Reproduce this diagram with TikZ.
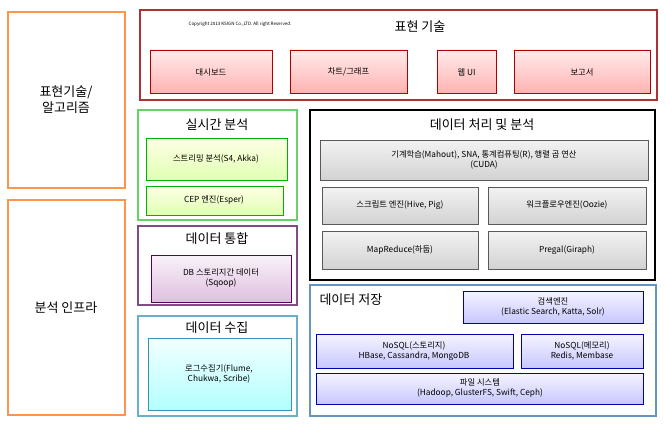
\documentclass[tikz,border=0pt]{standalone}
\usepackage{fontspec}
\setmainfont{Noto Sans CJK KR}
\usetikzlibrary{shadows}
\begin{document}
\begin{tikzpicture}[x=1pt,y=-1pt,
  grp/.style={draw=#1,line width=1.2pt,fill=white},
  inbox/.style={draw=#1!70!black,line width=0.5pt,drop shadow={opacity=0.3,shadow xshift=1pt,shadow yshift=-1pt}},
  ttl/.style={font=\fontsize{13}{16}\selectfont},
  lbl/.style={font=\fontsize{8.3}{10}\selectfont,align=center}]
\useasboundingbox (0,0) rectangle (666,425);
\fill[white] (0,0) rectangle (666,425);
% left
\draw[orange!80!red!70,line width=1.2pt] (8,12) rectangle (125,188);
\draw[orange!80!red!70,line width=1.2pt] (8,200) rectangle (125,415);
\node[ttl,align=center] (l1) at (66,100) {표현기술/\\알고리즘};
\node[ttl] (l2) at (66,308) {분석 인프라};
% top
\draw[grp=red!60!black!80] (140,10) rectangle (657,100);
\node[ttl] (t) at (420,27) {표현 기술};
\node[font=\fontsize{4.5}{5}\selectfont] (cp) at (240,24) {Copyright 2013 KSIGN Co.,LTD. All right Reserved.};
\foreach \a/\b/\s [count=\i] in {150/272/{대시보드},290/407/{차트/그래프},437/496/{웹 UI},514/650/{보고서}}{
  \draw[inbox=red,top color=red!8,bottom color=red!30] (\a,50) rectangle (\b,93);
  \node[lbl] (r\i) at ({(\a+\b)/2},72) {\s};
}
% green
\draw[grp=green!70!black!60] (138,110) rectangle (297,220);
\node[ttl] (g) at (217,125) {실시간 분석};
\draw[inbox=green,top color=green!5!yellow!10,bottom color=green!40!yellow!30] (146,138) rectangle (287,180);
\node[lbl] (g1) at (216,159) {스트리밍 분석(S4, Akka)};
\draw[inbox=green,top color=green!5!yellow!10,bottom color=green!40!yellow!30] (146,186) rectangle (283,215);
\node[lbl] (g2) at (214,200) {CEP 엔진(Esper)};
% purple
\draw[grp=violet!60!black!70] (138,226) rectangle (297,305);
\node[ttl] (p) at (217,239) {데이터 통합};
\draw[inbox=violet,top color=violet!5,bottom color=violet!25] (151,255) rectangle (291,302);
\node[lbl] (p1) at (221,278) {DB 스토리지간 데이터\\(Sqoop)};
% cyan
\draw[grp=cyan!70!black!70] (138,316) rectangle (297,416);
\node[ttl] (c) at (217,328) {데이터 수집};
\draw[inbox=cyan,top color=cyan!5,bottom color=cyan!30] (148,338) rectangle (291,410);
\node[lbl] (c1) at (219,374) {로그수집기(Flume,\\Chukwa, Scribe)};
% black
\draw[grp=black,line width=1.6pt] (310,110) rectangle (655,280);
\node[ttl] (k) at (482,125) {데이터 처리 및 분석};
\tikzset{gb/.style={inbox=gray,top color=gray!10,bottom color=gray!35}}
\draw[gb] (320,140) rectangle (648,180);
\node[lbl] (k1) at (484,160) {기계학습(Mahout), SNA, 통계컴퓨팅(R), 행렬 곱 연산\\(CUDA)};
\draw[gb] (322,187) rectangle (478,224); \node[lbl] (k2) at (400,205) {스크립트 엔진(Hive, Pig)};
\draw[gb] (488,187) rectangle (646,224); \node[lbl] (k3) at (567,205) {워크플로우엔진(Oozie)};
\draw[gb] (322,231) rectangle (478,269); \node[lbl] (k4) at (400,250) {MapReduce(하둡)};
\draw[gb] (488,231) rectangle (646,269); \node[lbl] (k5) at (567,250) {Pregal(Giraph)};
% blue
\draw[grp=blue!50!cyan!60!black!60] (310,285) rectangle (656,416);
\node[ttl,anchor=west] (b) at (316,300) {데이터 저장};
\tikzset{bb/.style={inbox=blue,top color=blue!4,bottom color=blue!22}}
\draw[bb] (463,291) rectangle (643,323); \node[lbl] (b1) at (553,307) {검색엔진\\(Elastic Search, Katta, Solr)};
\draw[bb] (316,334) rectangle (513,368); \node[lbl] (b2) at (414,351) {NoSQL(스토리지)\\HBase, Cassandra, MongoDB};
\draw[bb] (521,334) rectangle (643,368); \node[lbl] (b3) at (582,351) {NoSQL(메모리)\\Redis, Membase};
\draw[bb] (316,373) rectangle (643,404); \node[lbl] (b4) at (480,388) {파일 시스템\\(Hadoop, GlusterFS, Swift, Ceph)};
\end{tikzpicture}
\end{document}
